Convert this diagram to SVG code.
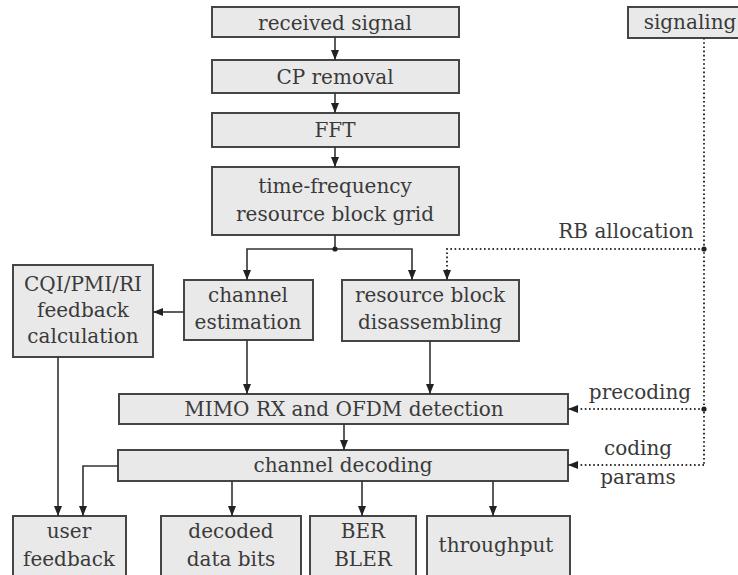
<svg xmlns="http://www.w3.org/2000/svg" width="738" height="575" viewBox="0 0 738 575">
  <defs>
    <style>
      .box { fill: #e9e9e9; stroke: #454545; stroke-width: 2; }
      .lbl { font-family: 'DejaVu Serif', 'Liberation Serif', serif; font-size: 20px; fill: #3a3a3a; text-anchor: middle; }
      .wire { fill: none; stroke: #333; stroke-width: 1.6; }
      .dot { fill: none; stroke: #333; stroke-width: 2; stroke-dasharray: 1.6 2.6; }
      .jn { fill: #222; }
    </style>
    <marker id="arr" viewBox="0 0 10 8" refX="10" refY="4" markerWidth="10" markerHeight="8" markerUnits="userSpaceOnUse" orient="auto">
      <path d="M0,0 L10,4 L0,8 z" fill="#222"/>
    </marker>
  </defs>

  <rect width="738" height="575" fill="#ffffff"/>

  <!-- processing chain -->
  <g id="received-signal">
    <rect class="box" x="212" y="7" width="247" height="30"/>
    <text class="lbl" x="335" y="30">received signal</text>
  </g>
  <g id="cp-removal">
    <rect class="box" x="212" y="60" width="247" height="33"/>
    <text class="lbl" x="335" y="84">CP removal</text>
  </g>
  <g id="fft">
    <rect class="box" x="212" y="113" width="247" height="34"/>
    <text class="lbl" x="335" y="137">FFT</text>
  </g>
  <g id="tf-grid">
    <rect class="box" x="212" y="167" width="247" height="68"/>
    <text class="lbl" x="335" y="193">time-frequency</text>
    <text class="lbl" x="335" y="221">resource block  grid</text>
  </g>
  <g id="signaling">
    <rect class="box" x="628" y="7" width="120" height="31"/>
    <text class="lbl" x="690" y="29">signaling</text>
  </g>
  <g id="cqi-feedback">
    <rect class="box" x="13" y="265" width="140" height="92"/>
    <text class="lbl" x="83" y="291">CQI/PMI/RI</text>
    <text class="lbl" x="83" y="317">feedback</text>
    <text class="lbl" x="83" y="343">calculation</text>
  </g>
  <g id="channel-estimation">
    <rect class="box" x="184" y="280" width="129" height="60"/>
    <text class="lbl" x="248" y="302">channel</text>
    <text class="lbl" x="248" y="329">estimation</text>
  </g>
  <g id="rb-disassembling">
    <rect class="box" x="342" y="280" width="177" height="61"/>
    <text class="lbl" x="430" y="302">resource block</text>
    <text class="lbl" x="430" y="329">disassembling</text>
  </g>
  <g id="mimo-rx">
    <rect class="box" x="119" y="394" width="449" height="30"/>
    <text class="lbl" x="344" y="416">MIMO RX and OFDM detection</text>
  </g>
  <g id="channel-decoding">
    <rect class="box" x="118" y="450" width="450" height="31"/>
    <text class="lbl" x="343" y="472">channel decoding</text>
  </g>
  <g id="user-feedback">
    <rect class="box" x="13" y="516" width="113" height="70"/>
    <text class="lbl" x="69" y="538">user</text>
    <text class="lbl" x="69" y="566">feedback</text>
  </g>
  <g id="decoded-bits">
    <rect class="box" x="161" y="516" width="140" height="70"/>
    <text class="lbl" x="231" y="538">decoded</text>
    <text class="lbl" x="231" y="566">data bits</text>
  </g>
  <g id="ber-bler">
    <rect class="box" x="310" y="516" width="106" height="70"/>
    <text class="lbl" x="363" y="538">BER</text>
    <text class="lbl" x="363" y="566">BLER</text>
  </g>
  <g id="throughput">
    <rect class="box" x="427" y="516" width="143" height="70"/>
    <text class="lbl" x="496" y="552">throughput</text>
  </g>

  <!-- side labels on the signaling paths -->
  <g id="side-labels">
    <text class="lbl" x="626" y="238">RB allocation</text>
    <text class="lbl" x="640" y="399">precoding</text>
    <text class="lbl" x="638" y="455">coding</text>
    <text class="lbl" x="638" y="484">params</text>
  </g>

  <!-- connectors -->
  <g id="connectors">
    <path class="wire" d="M335,37 V60" marker-end="url(#arr)"/>
    <path class="wire" d="M335,93 V113" marker-end="url(#arr)"/>
    <path class="wire" d="M335,147 V167" marker-end="url(#arr)"/>
    <path class="wire" d="M335,235 V249"/>
    <path class="wire" d="M335,249 H247 V280" marker-end="url(#arr)"/>
    <path class="wire" d="M335,249 H412 V280" marker-end="url(#arr)"/>
    <circle class="jn" cx="335" cy="249" r="2.6"/>
    <path class="wire" d="M184,312 H153" marker-end="url(#arr)"/>
    <path class="wire" d="M247,340 V394" marker-end="url(#arr)"/>
    <path class="wire" d="M430,341 V394" marker-end="url(#arr)"/>
    <path class="wire" d="M344,424 V450" marker-end="url(#arr)"/>
    <path class="wire" d="M58,357 V516" marker-end="url(#arr)"/>
    <path class="wire" d="M118,466 H83 V516" marker-end="url(#arr)"/>
    <path class="wire" d="M232,481 V516" marker-end="url(#arr)"/>
    <path class="wire" d="M362,481 V516" marker-end="url(#arr)"/>
    <path class="wire" d="M493,481 V516" marker-end="url(#arr)"/>

    <!-- signaling distribution (dotted) -->
    <path class="dot" d="M704,38 V465"/>
    <path class="dot" d="M704,249 H447 V280" marker-end="url(#arr)"/>
    <path class="dot" d="M704,409 H568" marker-end="url(#arr)"/>
    <path class="dot" d="M704,465 H568" marker-end="url(#arr)"/>
    <circle class="jn" cx="704" cy="249" r="2.6"/>
    <circle class="jn" cx="704" cy="409" r="2.6"/>
  </g>
</svg>
